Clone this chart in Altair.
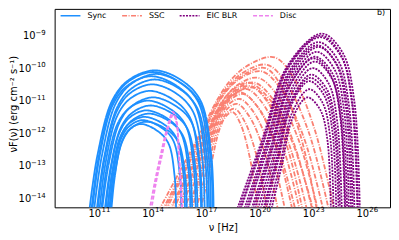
import altair as alt
import pandas as pd

# log10(nu [Hz]) and log10(nuF(nu) [erg cm^-2 s^-1]), one list per curve
SYNC_NU = [
    [10.44, 10.90, 11.72, 12.64, 14.10, 15.59, 16.67, 17.27, 17.40],
    [10.55, 10.98, 11.76, 12.62, 14.00, 15.46, 16.54, 17.12, 17.25],
    [10.70, 11.14, 11.92, 12.80, 14.20, 15.62, 16.66, 17.22, 17.35],
    [10.60, 11.01, 11.75, 12.58, 13.90, 15.32, 16.36, 16.92, 17.05],
    [10.85, 11.26, 11.99, 12.80, 14.10, 15.47, 16.48, 17.03, 17.15],
    [10.90, 11.28, 11.97, 12.73, 13.95, 15.28, 16.25, 16.78, 16.90],
    [11.00, 11.35, 11.98, 12.68, 13.80, 15.11, 16.06, 16.58, 16.70],
    [11.15, 11.51, 12.15, 12.86, 14.00, 15.24, 16.15, 16.64, 16.75],
    [11.10, 11.42, 12.01, 12.66, 13.70, 14.92, 15.81, 16.29, 16.40],
    [11.30, 11.62, 12.19, 12.83, 13.85, 15.04, 15.92, 16.39, 16.50],
    [11.35, 11.63, 12.14, 12.70, 13.60, 14.73, 15.55, 16.00, 16.10],
    [11.45, 11.74, 12.25, 12.83, 13.75, 14.85, 15.66, 16.10, 16.20],
    [11.45, 11.71, 12.17, 12.68, 13.50, 14.54, 15.29, 15.71, 15.80],
    [11.55, 11.78, 12.20, 12.66, 13.40, 14.39, 15.12, 15.51, 15.60],
    [11.60, 11.85, 12.30, 12.80, 13.60, 14.64, 15.39, 15.81, 15.90],
    [11.67, 11.87, 12.24, 12.65, 13.30, 14.20, 14.86, 15.22, 15.30],
]
SYNC_FLUX = [
    [-14.4, -12.67, -11.00, -10.37, -10.07, -10.37, -11.00, -12.67, -14.4],
    [-14.4, -12.69, -11.04, -10.42, -10.12, -10.42, -11.04, -12.69, -14.4],
    [-14.4, -12.71, -11.09, -10.48, -10.18, -10.48, -11.09, -12.71, -14.4],
    [-14.4, -12.74, -11.14, -10.54, -10.25, -10.54, -11.14, -12.74, -14.4],
    [-14.4, -12.78, -11.22, -10.63, -10.35, -10.63, -11.22, -12.78, -14.4],
    [-14.4, -12.84, -11.34, -10.77, -10.50, -10.77, -11.34, -12.84, -14.4],
    [-14.4, -12.92, -11.50, -10.96, -10.70, -10.96, -11.50, -12.92, -14.4],
    [-14.4, -13.00, -11.65, -11.15, -10.90, -11.15, -11.65, -13.00, -14.4],
    [-14.4, -13.04, -11.73, -11.24, -11.00, -11.24, -11.73, -13.04, -14.4],
    [-14.4, -13.10, -11.85, -11.38, -11.15, -11.38, -11.85, -13.10, -14.4],
    [-14.4, -13.16, -11.97, -11.52, -11.30, -11.52, -11.97, -13.16, -14.4],
    [-14.4, -13.20, -12.05, -11.61, -11.40, -11.61, -12.05, -13.20, -14.4],
    [-14.4, -13.24, -12.12, -11.70, -11.50, -11.70, -12.12, -13.24, -14.4],
    [-14.4, -13.28, -12.20, -11.80, -11.60, -11.80, -12.20, -13.28, -14.4],
    [-14.4, -13.30, -12.24, -11.84, -11.65, -11.84, -12.24, -13.30, -14.4],
    [-14.4, -13.33, -12.30, -11.91, -11.72, -11.91, -12.30, -13.33, -14.4],
]
SSC_NU = [
    [14.31, 16.26, 18.21, 19.51, 20.82, 21.82, 23.04, 24.17],
    [14.51, 16.28, 18.05, 19.23, 20.41, 21.44, 22.73, 23.87],
    [14.60, 16.31, 18.02, 19.16, 20.30, 21.17, 22.24, 23.20],
    [14.71, 16.33, 17.95, 19.03, 20.11, 21.14, 22.42, 23.56],
    [14.92, 16.41, 17.91, 18.91, 19.90, 20.91, 22.15, 23.26],
    [15.00, 16.38, 17.76, 18.68, 19.60, 20.44, 21.48, 22.40],
    [15.12, 16.49, 17.87, 18.78, 19.70, 20.67, 21.87, 22.95],
    [15.33, 16.57, 17.82, 18.66, 19.50, 20.44, 21.61, 22.65],
    [15.40, 16.60, 17.80, 18.60, 19.40, 20.48, 21.81, 23.00],
    [15.53, 16.65, 17.78, 18.54, 19.29, 20.17, 21.26, 22.24],
    [15.73, 16.74, 17.74, 18.41, 19.09, 19.91, 20.93, 21.83],
    [15.94, 16.82, 17.70, 18.29, 18.88, 19.65, 20.60, 21.42],
    [16.00, 16.89, 17.77, 18.36, 18.95, 19.87, 20.99, 22.00],
    [16.14, 16.92, 17.69, 18.21, 18.73, 19.42, 20.27, 21.02],
    [16.39, 17.05, 17.70, 18.14, 18.58, 19.13, 19.81, 20.41],
    [16.65, 17.20, 17.74, 18.11, 18.48, 18.91, 19.43, 19.90],
]
SSC_FLUX = [
    [-14.4, -12.41, -10.47, -9.86, -9.67, -10.24, -11.85, -14.4],
    [-14.4, -12.51, -10.67, -10.08, -9.90, -10.44, -11.97, -14.4],
    [-14.4, -12.55, -10.75, -10.18, -10.00, -10.53, -12.02, -14.4],
    [-14.4, -12.59, -10.83, -10.27, -10.10, -10.62, -12.08, -14.4],
    [-14.4, -12.68, -11.00, -10.46, -10.30, -10.79, -12.19, -14.4],
    [-14.4, -12.80, -11.25, -10.75, -10.60, -11.06, -12.35, -14.4],
    [-14.4, -12.74, -11.12, -10.61, -10.45, -10.92, -12.27, -14.4],
    [-14.4, -12.78, -11.20, -10.70, -10.55, -11.01, -12.32, -14.4],
    [-14.4, -12.74, -11.12, -10.61, -10.45, -10.92, -12.27, -14.4],
    [-14.4, -12.83, -11.29, -10.80, -10.65, -11.10, -12.38, -14.4],
    [-14.4, -12.89, -11.41, -10.94, -10.80, -11.23, -12.46, -14.4],
    [-14.4, -12.95, -11.54, -11.09, -10.95, -11.36, -12.54, -14.4],
    [-14.4, -12.87, -11.37, -10.90, -10.75, -11.19, -12.43, -14.4],
    [-14.4, -13.01, -11.66, -11.23, -11.10, -11.50, -12.62, -14.4],
    [-14.4, -13.08, -11.79, -11.38, -11.25, -11.63, -12.70, -14.4],
    [-14.4, -13.12, -11.87, -11.47, -11.35, -11.72, -12.75, -14.4],
]
EIC_NU = [
    [18.68, 20.11, 21.55, 23.46, 24.64, 25.28, 25.59],
    [18.80, 20.18, 21.56, 23.40, 24.53, 25.14, 25.45],
    [18.88, 20.22, 21.57, 23.36, 24.54, 25.18, 25.49],
    [19.08, 20.34, 21.59, 23.26, 24.38, 24.99, 25.29],
    [19.20, 20.40, 21.60, 23.20, 24.25, 24.82, 25.10],
    [19.29, 20.48, 21.67, 23.26, 24.33, 24.91, 25.19],
    [19.49, 20.59, 21.69, 23.16, 24.17, 24.72, 24.98],
    [19.60, 20.62, 21.64, 23.00, 23.96, 24.49, 24.75],
    [19.70, 20.70, 21.71, 23.05, 24.06, 24.61, 24.88],
    [19.85, 20.81, 21.77, 23.05, 24.01, 24.53, 24.78],
    [20.00, 20.88, 21.77, 22.95, 23.85, 24.33, 24.58],
    [20.15, 20.96, 21.77, 22.85, 23.75, 24.23, 24.48],
    [20.20, 20.98, 21.76, 22.80, 23.68, 24.16, 24.40],
    [20.31, 21.04, 21.77, 22.75, 23.59, 24.05, 24.27],
    [20.46, 21.15, 21.83, 22.75, 23.50, 23.92, 24.12],
    [20.61, 21.22, 21.83, 22.65, 23.38, 23.78, 23.97],
]
EIC_FLUX = [
    [-14.4, -12.22, -9.92, -8.94, -9.54, -11.01, -14.4],
    [-14.4, -12.24, -9.97, -9.00, -9.59, -11.05, -14.4],
    [-14.4, -12.26, -10.01, -9.05, -9.64, -11.08, -14.4],
    [-14.4, -12.32, -10.14, -9.20, -9.77, -11.18, -14.4],
    [-14.4, -12.36, -10.22, -9.30, -9.86, -11.24, -14.4],
    [-14.4, -12.38, -10.26, -9.35, -9.91, -11.27, -14.4],
    [-14.4, -12.44, -10.38, -9.50, -10.04, -11.36, -14.4],
    [-14.4, -12.52, -10.55, -9.70, -10.22, -11.49, -14.4],
    [-14.4, -12.50, -10.51, -9.65, -10.17, -11.46, -14.4],
    [-14.4, -12.56, -10.63, -9.80, -10.31, -11.55, -14.4],
    [-14.4, -12.64, -10.79, -10.00, -10.48, -11.67, -14.4],
    [-14.4, -12.72, -10.96, -10.20, -10.66, -11.80, -14.4],
    [-14.4, -12.76, -11.04, -10.30, -10.75, -11.86, -14.4],
    [-14.4, -12.80, -11.12, -10.40, -10.84, -11.92, -14.4],
    [-14.4, -12.90, -11.33, -10.65, -11.06, -12.08, -14.4],
    [-14.4, -13.00, -11.53, -10.90, -11.29, -12.23, -14.4],
]
DISC_NU = [
    [13.80, 14.11, 14.44, 14.82, 15.12, 15.32, 15.45, 15.60, 15.64],
    [13.90, 14.20, 14.50, 14.85, 15.15, 15.33, 15.47, 15.62, 15.66],
]
DISC_FLUX = [
    [-14.4, -13.50, -12.66, -11.80, -11.35, -11.60, -12.60, -14.00, -14.4],
    [-14.4, -13.45, -12.70, -11.85, -11.42, -11.70, -12.70, -14.00, -14.4],
]

COMPONENTS = ["Sync", "SSC", "EIC BLR", "Disc"]
COLORS = ["#1e90ff", "#fa8072", "#800080", "#ee82ee"]
DASHES = [[1, 0], [5, 1.5, 1, 1.5], [2, 1.2], [4, 2]]
X_TICKS = [11, 14, 17, 20, 23, 26]
Y_TICKS = [-14, -13, -12, -11, -10, -9]
X_TITLE = ["ν [Hz]"]
Y_TITLE = ["νF(ν) (erg cm⁻² s⁻¹)"]
PANEL_LABEL = ["b)"]

SUP_MAP = str.maketrans("-", "\u2212")
FONT = "DejaVu Sans"

rows = []
for comp, nus, fluxes in [
    ("SSC", SSC_NU, SSC_FLUX),
    ("Sync", SYNC_NU, SYNC_FLUX),
    ("EIC BLR", EIC_NU, EIC_FLUX),
    ("Disc", DISC_NU, DISC_FLUX),
]:
    for ci, (xs, ys) in enumerate(zip(nus, fluxes)):
        for k, (x, y) in enumerate(zip(xs, ys)):
            rows.append({"comp": comp, "curve": f"{comp}-{ci}", "k": k, "lognu": x, "logf": y})
df = pd.DataFrame(rows)

xscale = alt.Scale(domain=[8.5, 27.28], nice=False, zero=False)
yscale = alt.Scale(domain=[-14.28, -8.18], nice=False, zero=False)

legend = alt.Legend(
    orient="none", legendX=5, legendY=-4, direction="horizontal",
    symbolType="stroke", symbolSize=400, symbolStrokeWidth=1.5,
    labelFontSize=8, labelFont=FONT, labelOffset=6,
    columnPadding=12, padding=0, title=None,
)

lines = alt.Chart(df).mark_line(interpolate="catmull-rom", strokeWidth=1.8, clip=True).encode(
    x=alt.X("lognu:Q", scale=xscale, title="",
            axis=alt.Axis(values=X_TICKS, labels=False, grid=False, tickSize=3.5)),
    y=alt.Y("logf:Q", scale=yscale, title="",
            axis=alt.Axis(values=Y_TICKS, labels=False, grid=False, tickSize=3.5)),
    color=alt.Color("comp:N", scale=alt.Scale(domain=COMPONENTS, range=COLORS), legend=legend),
    strokeDash=alt.StrokeDash("comp:N", scale=alt.Scale(domain=COMPONENTS, range=DASHES), legend=legend),
    detail="curve:N",
    order="k:Q",
)

# tick labels written as 10 with a raised exponent
xt = pd.DataFrame({"tick": X_TICKS, "exp": [str(v).translate(SUP_MAP) for v in X_TICKS]})
yt = pd.DataFrame({"tick": Y_TICKS, "exp": [str(v).translate(SUP_MAP) for v in Y_TICKS]})

x_base = alt.Chart(xt).mark_text(align="right", baseline="alphabetic", fontSize=10, font=FONT,
                                 color="black", dx=1.9).encode(
    x=alt.X("tick:Q", scale=xscale, axis=None), y=alt.value(209.5), text=alt.value("10"))
x_exp = alt.Chart(xt).mark_text(align="left", baseline="alphabetic", fontSize=7, font=FONT,
                                color="black", dx=2.2).encode(
    x=alt.X("tick:Q", scale=xscale, axis=None), y=alt.value(204.3), text="exp:N")

y_exp = alt.Chart(yt).mark_text(align="right", baseline="alphabetic", fontSize=7, font=FONT,
                                color="black", dy=-0.7).encode(
    y=alt.Y("tick:Q", scale=yscale, axis=None), x=alt.value(-9), text="exp:N")
y_base2 = alt.Chart(yt).transform_filter(alt.datum.tick <= -10).mark_text(
    align="right", baseline="alphabetic", fontSize=10, font=FONT, color="black", dy=3.6).encode(
    y=alt.Y("tick:Q", scale=yscale, axis=None), x=alt.value(-23.6), text=alt.value("10"))
y_base1 = alt.Chart(yt).transform_filter(alt.datum.tick > -10).mark_text(
    align="right", baseline="alphabetic", fontSize=10, font=FONT, color="black", dy=3.6).encode(
    y=alt.Y("tick:Q", scale=yscale, axis=None), x=alt.value(-19.2), text=alt.value("10"))

x_title = alt.Chart(pd.DataFrame({"t": X_TITLE})).mark_text(
    fontSize=10, font=FONT, color="black", align="center", baseline="middle"
).encode(x=alt.value(170), y=alt.value(221), text="t:N")
y_title = alt.Chart(pd.DataFrame({"t": Y_TITLE})).mark_text(
    fontSize=10, font=FONT, color="black", align="center", baseline="middle", angle=270
).encode(x=alt.value(-41), y=alt.value(96), text="t:N")

panel = alt.Chart(pd.DataFrame({"t": PANEL_LABEL})).mark_text(
    fontSize=8, font=FONT, color="black", align="center", baseline="middle"
).encode(x=alt.value(329), y=alt.value(4), text="t:N")

chart = alt.layer(lines, x_base, x_exp, y_exp, y_base2, y_base1, x_title, y_title, panel).properties(
    width=338, height=200,
    padding={"left": 47, "top": 0, "right": 1, "bottom": 28},
    autosize="none",
).configure_view(stroke="black", strokeWidth=1).configure_axis(
    domainColor="black", tickColor="black", domainWidth=1,
)

chart.save("out.html", embed_options={"renderer": "svg", "actions": False})
